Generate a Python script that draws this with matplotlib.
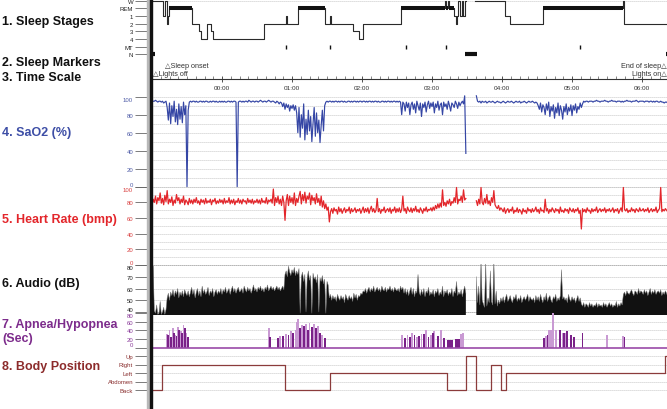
import numpy as np
import matplotlib
matplotlib.use("Agg")
import matplotlib.pyplot as plt
from matplotlib.patches import Rectangle

plt.rcParams["font.family"] = ["Liberation Sans", "DejaVu Sans"]

W, H = 667, 410
T_END = 441.4  # minutes after 23:00 at the right edge
nan = np.nan

# ---- sleep stages (minutes after 23:00, stage entered at that time) ----
stage_t = [0, 9.4, 11.1, 12.9, 13.7, 14.6, 34.3, 40.3, 42.0, 47.1, 50.6, 52.3,
           96.0, 114.9, 115.7, 125.0, 148.3, 152.6, 153.4, 172.3, 177.4, 180.9,
           213.4, 251.0, 252.0, 253.7, 254.6, 258.9, 260.6, 261.5, 262.3, 264.0,
           265.7, 266.6, 268.3, 269.0, 276.9, 302.6, 306.9, 335.0, 403.7, 404.8,
           441.4]
stage_names = ["W", "1", "W", "2", "1", "REM", "2", "3", "4", "2", "3", "4",
               "2", "1", "2", "REM", "2", "1", "2", "3", "4", "2",
               "REM", "W", "REM", "W", "REM", "1", "2", "1", "W", "1",
               "W", "1", "W", "", "W", "1", "2", "REM", "W", "2",
               "2"]
stage_labels = ["N", "MT", "4", "3", "2", "1", "REM", "W"]
mt_t = [114.9, 152.6, 217.7, 252.0, 366.9]
n_start = [0, 268.3, 440.6]
n_end = [2.6, 278.6, 441.4]

# ---- SaO2 (%), one value per minute, one row per half hour ----
sao2 = [
    94, 95, 95, 96, 95, 94, 95, 95, 94, 95, 93, 94, 95, 88, 74, 93, 70, 90, 78, 95, 72, 86, 69, 92, 75, 89, 71, 94, 80, 90,
    0, 85, 94, 95, 94, 95, 95, 94, 95, 94, 94, 95, 95, 94, 95, 94, 95, 95, 94, 94, 95, 94, 95, 95, 94, 95, 94, 94, 95, 94,
    95, 94, 95, 94, 94, 95, 95, 94, 95, 94, 95, 95, 94, 0, 94, 95, 95, 94, 95, 94, 95, 95, 94, 96, 95, 94, 95, 95, 94, 95,
    95, 94, 95, 96, 95, 94, 95, 95, 94, 95, 96, 95, 94, 95, 95, 94, 93, 95, 94, 92, 94, 93, 89, 93, 86, 92, 88, 91, 84, 90,
    87, 91, 85, 90, 82, 60, 88, 55, 80, 65, 92, 52, 75, 58, 85, 62, 78, 50, 70, 88, 56, 82, 60, 74, 49, 68, 85, 62, 90, 94,
    95, 94, 95, 95, 94, 95, 94, 95, 95, 94, 95, 94, 95, 95, 94, 95, 94, 94, 95, 95, 94, 95, 94, 95, 95, 94, 95, 94, 95, 95,
    94, 95, 95, 94, 95, 94, 95, 95, 94, 95, 94, 95, 95, 94, 95, 94, 94, 95, 95, 94, 95, 94, 95, 95, 94, 95, 94, 95, 95, 94,
    95, 94, 95, 94, 80, 94, 92, 84, 94, 88, 93, 80, 91, 94, 86, 92, 82, 95, 90, 85, 93, 78, 92, 88, 94, 83, 91, 95, 87, 93,
    89, 94, 82, 92, 88, 95, 85, 91, 93, 80, 94, 89, 92, 86, 95, 90, 84, 93, 91, 88, 95, 92, 87, 94, 90, 93, 95, 92, 101, 37,
    nan, nan, nan, nan, nan, nan, nan, nan, 101, 95, 94, 95, 93, 95, 94, 94, 95, 93, 94, 95, 94, 94, 95, 94, 93, 94, 95, 94, 94, 93,
    94, 95, 94, 93, 94, 95, 94, 94, 95, 94, 93, 94, 95, 94, 94, 95, 93, 94, 94, 95, 94, 93, 94, 95, 94, 94, 95, 94, 93, 94,
    93, 90, 86, 93, 83, 91, 88, 80, 92, 85, 94, 78, 89, 84, 91, 76, 88, 82, 93, 79, 90, 85, 75, 89, 83, 92, 80, 88, 84, 91,
    79, 90, 85, 92, 82, 89, 86, 93, 88, 92, 95, 94, 95, 95, 94, 95, 95, 95, 94, 95, 95, 96, 95, 95, 94, 95, 95, 95, 96, 95,
    95, 94, 95, 95, 96, 95, 95, 95, 94, 95, 95, 95, 94, 95, 94, 95, 95, 96, 95, 95, 95, 94, 95, 95, 95, 96, 95, 94, 95, 95,
    95, 95, 94, 95, 95, 95, 94, 95, 95, 94, 95, 94, 95, 95, 94, 94, 95, 94, 94, 93, 94, 94, 93, 94, 94, 93, 94, 94, 93, 94,
]

# ---- heart rate (bpm), one value per minute ----
heart = [
    76, 84, 80, 88, 78, 86, 82, 92, 79, 85, 77, 89, 81, 95, 78, 84, 80, 87, 76, 83, 79, 90, 82, 86, 78, 84, 80, 88, 77, 83,
    81, 77, 85, 79, 83, 78, 84, 80, 86, 79, 82, 77, 84, 80, 83, 78, 85, 79, 82, 80, 84, 77, 83, 81, 85, 78, 82, 79, 84, 80,
    83, 78, 85, 79, 82, 80, 86, 78, 83, 79, 84, 77, 82, 80, 85, 79, 83, 78, 84, 81, 82, 78, 85, 80, 83, 79, 84, 78, 82, 80,
    84, 79, 83, 78, 85, 80, 82, 79, 86, 78, 83, 81, 84, 79, 97, 76, 86, 80, 88, 78, 84, 76, 88, 80, 57, 82, 90, 76, 88, 80,
    86, 78, 92, 76, 85, 80, 88, 94, 78, 90, 82, 93, 79, 88, 84, 92, 77, 89, 82, 86, 78, 91, 80, 85, 76, 88, 74, 82, 72, 78,
    70, 74, 55, 68, 72, 66, 73, 69, 71, 65, 74, 68, 72, 66, 70, 73, 67, 71, 69, 74, 66, 72, 68, 70, 73, 67, 71, 69, 72, 66,
    70, 74, 67, 72, 68, 73, 66, 71, 75, 68, 72, 67, 70, 85, 68, 72, 66, 71, 69, 74, 67, 70, 72, 68, 73, 66, 71, 69, 74, 67,
    72, 68, 73, 67, 71, 88, 69, 72, 66, 74, 70, 68, 73, 67, 72, 69, 75, 68, 71, 67, 73, 70, 66, 72, 69, 74, 68, 71, 70, 73,
    69, 74, 70, 76, 72, 78, 73, 79, 74, 96, 76, 80, 75, 82, 78, 84, 76, 81, 79, 86, 80, 99, 78, 84, 82, 88, 80, 96, 83, 85,
    nan, nan, nan, nan, nan, nan, nan, nan, 82, 76, 84, 78, 99, 80, 77, 85, 79, 90, 78, 82, 76, 86, 80, 95, 77, 74, 72, 76, 70, 73,
    71, 68, 73, 66, 70, 72, 67, 71, 69, 74, 66, 70, 68, 73, 67, 71, 69, 65, 72, 68, 70, 66, 73, 69, 71, 67, 72, 68, 70, 74,
    68, 71, 66, 73, 69, 70, 67, 84, 69, 72, 66, 71, 68, 73, 70, 67, 72, 69, 71, 66, 74, 68, 70, 67, 72, 69, 71, 66, 73, 70,
    68, 72, 67, 71, 69, 73, 66, 70, 46, 72, 68, 71, 67, 73, 69, 70, 66, 72, 68, 71, 69, 74, 67, 70, 72, 68, 71, 69, 73, 67,
    71, 69, 72, 68, 70, 73, 67, 71, 69, 72, 66, 70, 73, 68, 99, 71, 69, 72, 67, 70, 68, 73, 69, 71, 67, 72, 70, 68, 73, 69,
    70, 72, 68, 71, 69, 73, 67, 70, 72, 68, 71, 69, 74, 67, 70, 72, 99, 68, 71, 69, 72, 70, 68, 71, 69, 72, 70, 68, 71, 70,
]

# ---- audio (dB), one value per minute ----
audio = [
    80, 79, 41, 39, 46, 38, 39, 49, 38, 40, 44, 38, 42, 52, 56, 50, 57, 54, 59, 53, 58, 55, 60, 52, 57, 54, 58, 53, 59, 56,
    54, 58, 53, 57, 61, 55, 59, 52, 57, 60, 54, 58, 53, 62, 56, 59, 55, 57, 61, 54, 58, 56, 60, 53, 57, 59, 55, 58, 56, 60,
    55, 59, 57, 61, 56, 58, 60, 55, 59, 62, 57, 60, 56, 59, 61, 57, 58, 60, 56, 62, 59, 57, 61, 58, 60, 56, 59, 63, 58, 60,
    57, 61, 59, 62, 58, 60, 57, 61, 59, 63, 58, 60, 62, 59, 61, 58, 60, 62, 59, 61, 58, 60, 62, 59, 72, 75, 70, 79, 74, 71,
    76, 73, 78, 71, 75, 72, 77, 39, 70, 74, 66, 72, 40, 69, 75, 67, 71, 39, 73, 68, 70, 65, 72, 40, 69, 66, 71, 64, 68, 39,
    66, 63, 52, 55, 50, 54, 51, 53, 49, 55, 52, 50, 54, 51, 53, 48, 55, 52, 50, 54, 51, 53, 49, 56, 52, 55, 50, 54, 53, 56,
    55, 58, 57, 60, 56, 59, 61, 57, 60, 58, 62, 57, 59, 61, 58, 60, 57, 62, 59, 58, 61, 57, 60, 59, 62, 58, 60, 57, 61, 59,
    58, 60, 57, 62, 59, 61, 56, 60, 55, 59, 54, 58, 61, 55, 60, 53, 58, 56, 72, 57, 54, 59, 55, 60, 53, 58, 56, 61, 54, 57,
    55, 59, 53, 58, 56, 60, 54, 57, 55, 62, 53, 58, 56, 59, 54, 57, 55, 60, 53, 58, 56, 66, 54, 57, 55, 59, 53, 58, 62, 56,
    nan, nan, nan, nan, nan, nan, nan, nan, 70, 48, 62, 46, 83, 50, 47, 44, 82, 45, 52, 48, 75, 49, 46, 83, 47, 58, 45, 50, 47, 52,
    49, 53, 48, 52, 55, 49, 51, 54, 50, 48, 53, 51, 55, 49, 52, 50, 54, 48, 51, 53, 50, 52, 55, 49, 53, 51, 50, 52, 48, 54,
    50, 53, 49, 55, 51, 48, 53, 50, 56, 49, 52, 54, 50, 48, 53, 51, 55, 49, 52, 50, 54, 76, 51, 53, 50, 52, 48, 55, 51, 49,
    53, 50, 52, 48, 51, 54, 49, 52, 47, 45, 48, 44, 47, 46, 44, 48, 45, 47, 44, 46, 45, 48, 44, 47, 45, 46, 44, 48, 45, 47,
    44, 46, 48, 45, 47, 44, 46, 45, 49, 44, 47, 45, 48, 46, 55, 57, 54, 58, 56, 55, 57, 59, 56, 54, 58, 57, 55, 60, 56, 58,
    57, 55, 59, 56, 58, 54, 57, 60, 55, 58, 56, 59, 55, 57, 58, 56, 59, 54, 57, 55, 58, 56, 53, 57, 55, 52, 56, 54, 55, 53,
]

# ---- apnea / hypopnea events (minutes, seconds) ----
apnea_t = [14, 16.5, 19, 21, 23.5, 26, 28.5, 31,
           101, 108, 112, 117, 121, 127, 130, 133.5, 137, 140.5, 144, 148,
           217, 221, 225, 229, 233, 237, 241, 245, 250, 254, 255.5, 257, 260.5, 262, 263.5,
           336, 339, 350, 353, 356, 359, 362, 369, 405]
apnea_s = [30, 25, 35, 28, 40, 33, 45, 25,
           25, 22, 28, 30, 35, 45, 50, 40, 48, 45, 35, 22,
           22, 25, 30, 28, 32, 25, 35, 28, 22, 18, 18, 18, 20, 20, 20,
           22, 30, 40, 35, 38, 30, 25, 35, 25]
hypop_t = [13, 15, 18, 20, 22, 24.5, 27, 29.5,
           100, 110, 115, 119, 123, 124.5, 125.5, 128.5, 132, 135, 139, 142, 146,
           214, 219, 223, 227, 231, 235, 239, 242, 248, 265, 266.5,
           337.5, 340, 342, 344, 346, 352, 355, 389.7, 403.5]
hypop_s = [32, 40, 45, 30, 48, 38, 52, 35,
           45, 28, 32, 38, 40, 60, 68, 52, 55, 58, 55, 50, 30,
           30, 30, 35, 25, 32, 40, 30, 38, 42, 32, 35,
           28, 40, 42, 80, 40, 35, 33, 30, 28]

# ---- body position ----
body_t = [0, 8.6, 114.0, 152.6, 253.0, 269.0, 278.0, 290.6, 299.0, 303.4, 440.0, 441.4]
body_pos = ["Back", "Right", "Back", "Left", "Back", "Up", "Back", "Right", "Back",
            "Left", "Up", "Up"]
body_labels = ["Back", "Abdomen", "Left", "Right", "Up"]

hour_ticks = [60, 120, 180, 240, 300, 360, 420]
hour_labels = ["00:00", "01:00", "02:00", "03:00", "04:00", "05:00", "06:00"]

fig = plt.figure(figsize=(W / 100, H / 100), dpi=100)


def panel(y0, y1, ylim):
    ax = fig.add_axes([152 / W, 1 - y1 / H, (W - 152) / W, (y1 - y0) / H])
    ax.set_xlim(0, T_END)
    ax.set_ylim(*ylim)
    for s in ax.spines.values():
        s.set_visible(False)
    ax.set_xticks([])
    ax.patch.set_alpha(0)
    return ax


def grid(ax, levels, color="#b4b4b4"):
    for lv in levels:
        ax.axhline(lv, color=color, lw=0.6, ls=(0, (1, 1.4)), zorder=0)


def yaxis(ax, ticks, labels, color, clamp=False):
    ax.set_yticks(ticks)
    ax.set_yticklabels(labels)
    ax.tick_params(axis="y", length=12, width=0.6, color="#666", labelsize=4.3,
                   labelcolor=color, pad=1.6)
    if clamp:
        tl = ax.get_yticklabels()
        tl[0].set_va("bottom")
        tl[-1].set_va("top")


# 1. sleep stages
ax1 = panel(0, 60, (-0.6, 7.2))
lvl = {"W": 7, "REM": 6, "1": 5, "2": 4, "3": 3, "4": 2}
stage_y = np.array([lvl.get(s, np.nan) for s in stage_names])
grid(ax1, [7])
ax1.step(stage_t, stage_y, where="post", color="#2a2a2a", lw=0.8)
for a, b, s in zip(stage_t[:-1], stage_t[1:], stage_names[:-1]):
    if s == "REM":
        ax1.plot([a, b], [6, 6], color="#111", lw=2.9, solid_capstyle="butt")
ax1.plot(mt_t, [1] * len(mt_t), ls="none", marker="|", ms=3, mew=1, color="#111")
ax1.hlines([0] * len(n_start), n_start, n_end, color="#111", lw=3)
yaxis(ax1, range(8), stage_labels, "#222")

# 2./3. sleep markers and time scale
axt = panel(60, 95, (0, 1))
base = (95 - 80) / 35
axt.spines["bottom"].set_visible(True)
axt.spines["bottom"].set_position(("axes", base))
axt.spines["bottom"].set_color("#333")
axt.spines["bottom"].set_linewidth(0.8)
axt.set_xticks(hour_ticks)
axt.set_xticklabels(hour_labels)
axt.set_xticks(np.arange(7.5, T_END, 7.5), minor=True)
axt.tick_params(axis="x", which="major", direction="inout", length=4, width=0.6,
                color="#333", labelsize=4.6, labelcolor="#333", pad=2.5)
axt.tick_params(axis="x", which="minor", direction="in", length=2, width=0.5, color="#555")
axt.set_yticks([])
mk = dict(fontsize=5.2, color="#333", va="center")
axt.text(11, (95 - 67) / 35, "\u25b3Sleep onset", ha="left", **mk)
axt.text(0.6, (95 - 75) / 35, "\u25b3Lights off", ha="left", **mk)
axt.text(T_END, (95 - 67) / 35, "End of sleep\u25b3", ha="right", **mk)
axt.text(T_END, (95 - 75) / 35, "Lights on\u25b3", ha="right", **mk)

# 4. SaO2
ax4 = panel(95, 189, ((187.7 - 189) / 0.9, (187.7 - 95) / 0.9))
grid(ax4, range(0, 101, 10))
ax4.plot(np.arange(len(sao2)), sao2, color="#3546a5", lw=0.85)
yaxis(ax4, range(0, 101, 20), [str(v) for v in range(0, 101, 20)], "#4d5aa6", True)

# 5. heart rate
ax5 = panel(186, 266, (0, 80 / 0.783))
grid(ax5, range(0, 101, 10))
ax5.plot(np.arange(len(heart)), heart, color="#e3262b", lw=0.9)
yaxis(ax5, range(0, 101, 20), [str(v) for v in range(0, 101, 20)], "#d94040", True)

# 6. audio
a_lo, a_hi = 80 - (316 - 266) / 1.175, 80 + 1 / 1.175
ax6 = panel(265, 316, (a_lo, a_hi))
grid(ax6, [50, 60, 70], "#aaaaaa")
grid(ax6, [40, 80], "#555555")
ta = np.arange(len(audio))
ax6.fill_between(ta, a_lo, audio, color="#111", lw=0)
ax6.plot(ta, audio, color="#777", lw=0.35)
yaxis(ax6, range(40, 81, 10), [str(v) for v in range(40, 81, 10)], "#222", True)

# 7. apnea / hypopnea
ax7 = panel(313, 351, (-(351 - 348.5) / 0.426, (348.5 - 313) / 0.426))
grid(ax7, [20, 40, 60])
ax7.bar(hypop_t, hypop_s, width=1.6, color="#c99ad3", lw=0)
ax7.bar(apnea_t, apnea_s, width=1.6, color="#7a2188", lw=0)
ax7.axhline(0, color="#9a4aa8", lw=1.2)
yaxis(ax7, range(0, 81, 20), [str(v) for v in range(0, 81, 20)], "#8a3a9a", True)

# 8. body position
ax8 = panel(350, 410, (-19 / 8.5, 4 + 7 / 8.5))
grid(ax8, range(5))
body_y = [body_labels.index(p) for p in body_pos]
ax8.step(body_t, body_y, where="post", color="#8b3b3b", lw=0.9)
yaxis(ax8, range(5), body_labels, "#8a3030")

# left border bar
fig.add_artist(Rectangle((146.5 / W, 0), 3 / W, 1, transform=fig.transFigure,
                         color="#b8b8b8", zorder=10))
fig.add_artist(Rectangle((149.5 / W, 0), 2.5 / W, 1, transform=fig.transFigure,
                         color="#111", zorder=10))

# panel names
lab = dict(fontsize=9, fontweight="bold", va="center", ha="left")
fig.text(2 / W, 1 - 22 / H, "1. Sleep Stages", color="#111", **lab)
fig.text(2 / W, 1 - 63 / H, "2. Sleep Markers", color="#111", **lab)
fig.text(2 / W, 1 - 78 / H, "3. Time Scale", color="#111", **lab)
fig.text(2 / W, 1 - 133 / H, "4. SaO2 (%)", color="#3d4ea6", **lab)
fig.text(2 / W, 1 - 220 / H, "5. Heart Rate (bmp)", color="#e3262b", **lab)
fig.text(2 / W, 1 - 284 / H, "6. Audio (dB)", color="#111", **lab)
fig.text(2 / W, 1 - 325 / H, "7. Apnea/Hypopnea", color="#7d2c8c", **lab)
fig.text(2 / W, 1 - 339 / H, "(Sec)", color="#7d2c8c", **lab)
fig.text(2 / W, 1 - 367 / H, "8. Body Position", color="#8c2b2b", **lab)

fig.savefig("out.png", dpi=100)
